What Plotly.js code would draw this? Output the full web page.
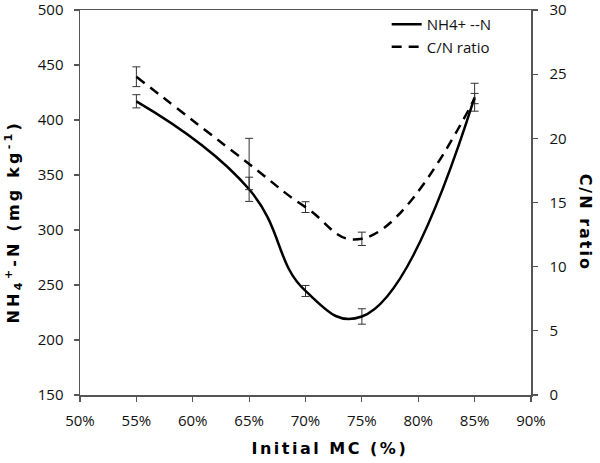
<!DOCTYPE html>
<html>
<head>
<meta charset="utf-8">
<script src="https://cdn.plot.ly/plotly-3.0.1.min.js"></script>
<style>
body{margin:0;padding:0;background:#fff;}
#chart{width:600px;height:463px;}
</style>
</head>
<body>
<div id="chart"></div>
<script>
// Data
const mc = [55, 65, 70, 75, 85];               // Initial MC (%)
const nh4 = [417, 337, 244.6, 221.4, 420.7];   // NH4+-N (mg kg-1)
const nh4Err = [6, 11, 5, 7, 12.7];
const cn = [24.8, 18.0, 14.64, 12.17, 23.1];   // C/N ratio
const cnErr = [0.77, 2.0, 0.42, 0.52, 0.4];
const xTickVals = [50, 55, 60, 65, 70, 75, 80, 85, 90];
const xTickText = ['50%', '55%', '60%', '65%', '70%', '75%', '80%', '85%', '90%'];
const xTitle = 'Initial MC (%)';
const yTitle = 'NH<sub>4</sub><sup>+</sup>-N (mg kg<sup>-1</sup>)';
const y2Title = 'C/N ratio';

const font = {family: 'Open Sans, sans-serif', size: 15, color: '#111'};
const titleFont = {family: 'DejaVu Sans, sans-serif', size: 16, color: '#000', weight: 'bold'};

const traces = [
  {
    x: mc, y: nh4, name: 'NH4+ --N', type: 'scatter', mode: 'lines',
    line: {color: '#000', width: 2.5, shape: 'spline', smoothing: 1.3},
    error_y: {type: 'data', array: nh4Err, visible: true, color: '#333', thickness: 1, width: 4}
  },
  {
    x: mc, y: cn, name: 'C/N ratio', type: 'scatter', mode: 'lines', yaxis: 'y2',
    line: {color: '#000', width: 2.5, dash: '10px,7px', shape: 'spline', smoothing: 1.3},
    error_y: {type: 'data', array: cnErr, visible: true, color: '#333', thickness: 1, width: 4}
  }
];

const axisCommon = {
  showgrid: false, zeroline: false, showline: true, linecolor: '#555', linewidth: 1.5,
  ticks: 'outside', ticklen: 5, tickwidth: 1.2, tickcolor: '#555', tickfont: font,
  ticklabeloverflow: 'allow', ticklabelstandoff: 6
};

const layout = {
  width: 600, height: 463,
  margin: {l: 80, r: 69, t: 8, b: 68},
  paper_bgcolor: '#fff', plot_bgcolor: '#fff',
  font: font,
  showlegend: true,
  legend: {x: 0.68, y: 1.005, xanchor: 'left', yanchor: 'top', bgcolor: 'rgba(0,0,0,0)',
           font: {family: 'Open Sans, sans-serif', size: 15, color: '#111'}, tracegroupgap: 0},
  xaxis: Object.assign({}, axisCommon, {
    range: [50, 90], tickvals: xTickVals, ticktext: xTickText, mirror: true
  }),
  yaxis: Object.assign({}, axisCommon, {
    range: [150, 500], dtick: 50, ticklabelstandoff: 7
  }),
  yaxis2: Object.assign({}, axisCommon, {
    range: [0, 30], dtick: 5, overlaying: 'y', side: 'right', ticklabelstandoff: 9
  }),
  annotations: [
    {text: xTitle, xref: 'paper', yref: 'paper', x: 0.554, y: -0.14, xanchor: 'center', yanchor: 'middle',
     showarrow: false, font: titleFont},
    {text: yTitle, xref: 'paper', yref: 'paper', x: -0.146, y: 0.45, xanchor: 'center', yanchor: 'middle',
     textangle: -90, showarrow: false, font: titleFont},
    {text: y2Title, xref: 'paper', yref: 'paper', x: 1.12, y: 0.45, xanchor: 'center', yanchor: 'middle',
     textangle: 90, showarrow: false, font: titleFont}
  ]
};

Plotly.newPlot('chart', traces, layout, {displayModeBar: false, staticPlot: true}).then(function () {
  const spacing = [2.5, 3.2, 2.0];
  document.querySelectorAll('.annotation-text').forEach(function (el, i) {
    el.style.letterSpacing = spacing[i] + 'px';
  });
});
</script>
</body>
</html>
